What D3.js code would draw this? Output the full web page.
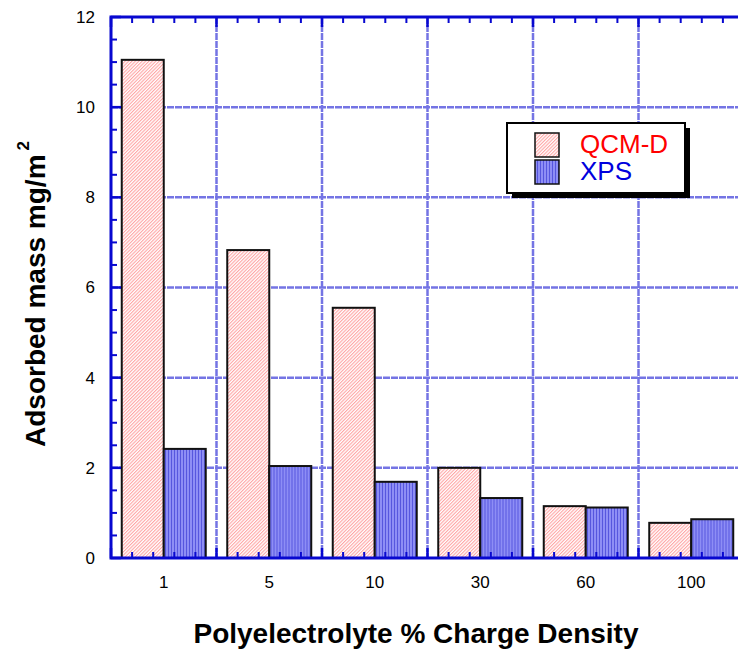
<!DOCTYPE html>
<html>
<head>
<meta charset="utf-8">
<script src="https://cdn.jsdelivr.net/npm/d3@7"></script>
<style>
  body { margin: 0; background: #fff; }
  svg { font-family: Arial, "Liberation Sans", sans-serif; }
</style>
</head>
<body>
<div id="chart"></div>
<script>
// data
var categories = ['1', '5', '10', '30', '60', '100'];
var seriesNames = ['QCM-D', 'XPS'];
var qcmValues = [11.05, 6.83, 5.55, 2.0, 1.15, 0.78];
var xpsValues = [2.42, 2.04, 1.69, 1.33, 1.12, 0.86];
var yTicks = [0, 2, 4, 6, 8, 10, 12];

var W = 738, H = 650,
	pL = 111, pR = 744, pT = 17, pB = 558,
	axisCol = '#0808d0', gridCol = '#7474e4';

var svg = d3.select('#chart').append('svg').attr('width', W).attr('height', H);
var defs = svg.append('defs');

// hatch patterns
var pinkPat = defs.append('pattern').attr('id', 'pinkHatch')
	.attr('patternUnits', 'userSpaceOnUse').attr('width', 2.4).attr('height', 2.4)
	.attr('patternTransform', 'rotate(45)');
pinkPat.append('rect').attr('width', 2.4).attr('height', 2.4).attr('fill', '#fff');
pinkPat.append('rect').attr('width', 1.1).attr('height', 2.4).attr('fill', '#ffa5a5');

var bluePat = defs.append('pattern').attr('id', 'blueHatch')
	.attr('patternUnits', 'userSpaceOnUse').attr('width', 3).attr('height', 3);
bluePat.append('rect').attr('width', 3).attr('height', 3).attr('fill', '#8e8ef5');
bluePat.append('rect').attr('width', 1).attr('height', 3).attr('fill', '#5656de');

var fills = ['url(#pinkHatch)', 'url(#blueHatch)'];

// scales
var x = d3.scaleBand().domain(categories).range([pL, pR]).padding(0);
var x1 = d3.scaleBand().domain(seriesNames).range([0, x.bandwidth()]).paddingInner(0).paddingOuter(0.256);
var xl = d3.scaleLinear().domain([0, categories.length]).range([pL, pR]);
var y = d3.scaleLinear().domain([0, 12]).range([pB, pT]);

var g = svg.append('g');

// grid
g.selectAll('.hgrid').data(yTicks.slice(1, -1)).enter().append('line')
	.attr('x1', pL).attr('x2', pR)
	.attr('y1', function(d){ return y(d); }).attr('y2', function(d){ return y(d); })
	.attr('stroke', gridCol).attr('stroke-width', 2.5).attr('stroke-dasharray', '7,1');
g.selectAll('.vgrid').data(d3.range(1, categories.length)).enter().append('line')
	.attr('x1', function(d){ return xl(d); }).attr('x2', function(d){ return xl(d); })
	.attr('y1', pT).attr('y2', pB)
	.attr('stroke', gridCol).attr('stroke-width', 2.5).attr('stroke-dasharray', '7,1');

// bars
var rows = categories.map(function(c, i){
	return [{c: c, s: seriesNames[0], v: qcmValues[i]}, {c: c, s: seriesNames[1], v: xpsValues[i]}];
});
g.selectAll('.grp').data(rows).enter().append('g')
	.attr('transform', function(d){ return 'translate(' + x(d[0].c) + ',0)'; })
	.selectAll('rect').data(function(d){ return d; }).enter().append('rect')
		.attr('x', function(d){ return x1(d.s); })
		.attr('width', x1.bandwidth())
		.attr('y', function(d){ return y(d.v); })
		.attr('height', function(d){ return y(0) - y(d.v); })
		.attr('fill', function(d, i){ return fills[i]; })
		.attr('stroke', '#111').attr('stroke-width', 2);

// axes: minor and major ticks, inward
var minorX = d3.range(0, categories.length * 5 + 1).map(function(i){ return i / 5; })
	.filter(function(v){ return Math.abs(v - Math.round(v)) > 1e-6; });
var majorX = d3.range(0, categories.length + 1);
var minorY = d3.range(0, 25).map(function(i){ return i / 2; })
	.filter(function(v){ return v % 2 !== 0; });

function tickLines(sel, data, fx, fy1, fy2, w){
	sel.selectAll(null).data(data).enter().append('line')
		.attr('x1', fx).attr('x2', fx).attr('y1', fy1).attr('y2', fy2)
		.attr('stroke', axisCol).attr('stroke-width', w);
}
var ax = svg.append('g');
// bottom
tickLines(ax, minorX, function(d){ return xl(d); }, pB, pB - 6, 2);
tickLines(ax, majorX, function(d){ return xl(d); }, pB, pB - 10, 2.5);
// top
tickLines(ax, minorX, function(d){ return xl(d); }, pT, pT + 6, 2);
tickLines(ax, majorX, function(d){ return xl(d); }, pT, pT + 10, 2.5);
// left
ax.selectAll(null).data(minorY).enter().append('line')
	.attr('x1', pL).attr('x2', pL + 6)
	.attr('y1', function(d){ return y(d); }).attr('y2', function(d){ return y(d); })
	.attr('stroke', axisCol).attr('stroke-width', 2);
ax.selectAll(null).data(yTicks).enter().append('line')
	.attr('x1', pL).attr('x2', pL + 10)
	.attr('y1', function(d){ return y(d); }).attr('y2', function(d){ return y(d); })
	.attr('stroke', axisCol).attr('stroke-width', 2.5);
// frame
ax.append('rect').attr('x', pL).attr('y', pT).attr('width', pR - pL).attr('height', pB - pT)
	.attr('fill', 'none').attr('stroke', axisCol).attr('stroke-width', 3);

// tick labels via d3 axes
var yAxis = svg.append('g').attr('transform', 'translate(' + pL + ',0)')
	.call(d3.axisLeft(y).tickValues(yTicks).tickSize(0).tickPadding(16).tickFormat(d3.format('d')));
var xAxis = svg.append('g').attr('transform', 'translate(0,' + pB + ')')
	.call(d3.axisBottom(x).tickSize(0).tickPadding(18));
[yAxis, xAxis].forEach(function(a){
	a.select('.domain').remove();
	a.selectAll('text').attr('font-size', 17).attr('fill', '#000')
		.attr('font-family', 'Arial, "Liberation Sans", sans-serif');
});

// axis titles
svg.append('text').attr('x', 416).attr('y', 643).attr('text-anchor', 'middle')
	.attr('font-size', 28).attr('font-weight', 'bold').text('Polyelectrolyte % Charge Density');
var yt = svg.append('text').attr('transform', 'translate(45,447) rotate(-90)')
	.attr('font-size', 28).attr('font-weight', 'bold');
yt.append('tspan').text('Adsorbed mass mg/m');
yt.append('tspan').attr('dy', -16).attr('dx', 4).attr('font-size', 17).text('2');

// legend
var lg = svg.append('g').attr('transform', 'translate(507,123)');
lg.append('rect').attr('x', 5).attr('y', 5).attr('width', 178).attr('height', 70).attr('fill', '#000');
lg.append('rect').attr('width', 178).attr('height', 70).attr('fill', '#fff')
	.attr('stroke', '#000').attr('stroke-width', 2);
var legCols = ['#ff0000', '#0000dd'];
seriesNames.forEach(function(s, i){
	lg.append('rect').attr('x', 28).attr('y', 10 + i * 27).attr('width', 24).attr('height', 24)
		.attr('fill', fills[i]).attr('stroke', '#111').attr('stroke-width', 1.5);
	lg.append('text').attr('x', 73).attr('y', 30 + i * 27).attr('font-size', 26)
		.attr('fill', legCols[i]).text(s);
});
</script>
</body>
</html>
